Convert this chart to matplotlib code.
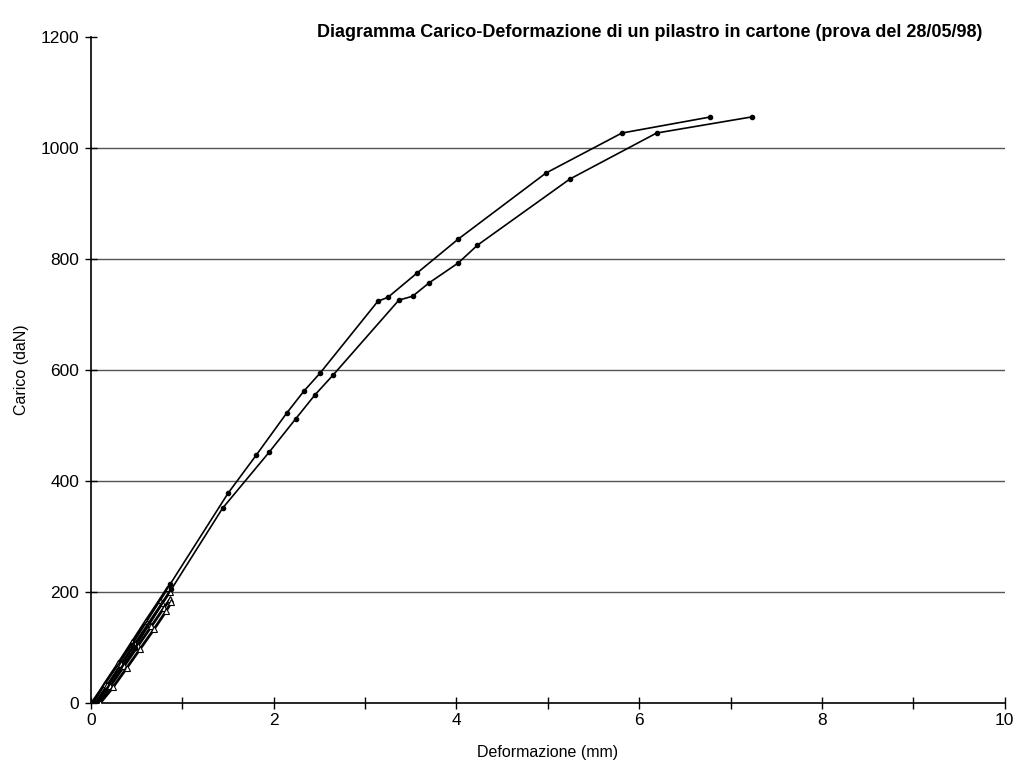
import matplotlib
matplotlib.use('Agg')
import matplotlib.pyplot as plt
import numpy as np

plt.rcParams['font.family'] = ['Liberation Sans', 'DejaVu Sans']

# curva di carico superiore (mm, daN)
x_up = [0.0, 0.45, 0.87, 1.50, 1.81, 2.14, 2.33, 2.51, 3.14, 3.25, 3.57, 4.02, 4.98, 5.81, 6.78]
y_up = [0, 105, 215, 378, 447, 522, 562, 595, 724, 731, 775, 836, 955, 1027, 1056]

# curva di carico inferiore
x_lo = [0.06, 0.48, 0.88, 1.44, 1.95, 2.24, 2.45, 2.65, 3.37, 3.52, 3.70, 4.02, 4.23, 5.24, 6.19, 7.23]
y_lo = [0, 100, 205, 351, 452, 512, 555, 591, 726, 733, 757, 793, 825, 944, 1027, 1056]

# cicli iniziali fino a ~200 daN
cyc1_x = [0.02, 0.15, 0.30, 0.45, 0.60, 0.75, 0.84]
cyc1_y = [0, 35, 72, 110, 148, 185, 208]
cyc2_x = [0.05, 0.18, 0.33, 0.48, 0.63, 0.78, 0.86]
cyc2_y = [0, 32, 70, 106, 143, 180, 200]
cyc3_x = [0.08, 0.21, 0.36, 0.51, 0.66, 0.80, 0.87]
cyc3_y = [0, 30, 66, 102, 138, 172, 188]
cyc4_x = [0.10, 0.24, 0.39, 0.54, 0.69, 0.82, 0.88]
cyc4_y = [0, 28, 63, 98, 133, 165, 182]

fig = plt.figure(figsize=(10.2, 7.65), dpi=100)
ax = fig.add_axes([0.0892, 0.081, 0.8958, 0.8706])

for yg in [200, 400, 600, 800, 1000]:
    ax.axhline(yg, color='#555555', lw=1.0, zorder=1)

for cx, cy in [(cyc1_x, cyc1_y), (cyc2_x, cyc2_y), (cyc3_x, cyc3_y), (cyc4_x, cyc4_y)]:
    ax.plot(cx, cy, color='black', lw=2.0, marker='^', markersize=5,
            markerfacecolor='white', markeredgecolor='black', markeredgewidth=0.8, zorder=3)

ax.plot(x_up, y_up, color='black', lw=1.2, marker='o', markersize=3, zorder=4)
ax.plot(x_lo, y_lo, color='black', lw=1.2, marker='o', markersize=3, zorder=4)

ax.set_xlim(0, 10)
ax.set_ylim(0, 1200)
ax.spines['top'].set_visible(False)
ax.spines['right'].set_visible(False)
ax.spines['left'].set_linewidth(1.2)
ax.spines['bottom'].set_linewidth(1.2)

ax.set_xticks(np.arange(0, 11, 2))
ax.set_xticks(np.arange(1, 10, 2), minor=True)
ax.set_yticks(np.arange(0, 1201, 200))
ax.tick_params(axis='both', which='both', direction='inout', length=9, width=1.0,
               labelsize=12.5, colors='black')
ax.tick_params(axis='y', pad=4)
ax.tick_params(axis='x', pad=3)

ax.set_xlabel('Deformazione (mm)', fontsize=11.5, labelpad=12)
ax.set_ylabel('Carico (daN)', fontsize=11.5, labelpad=8)

fig.text(0.637, 0.958, 'Diagramma Carico-Deformazione di un pilastro in cartone (prova del 28/05/98)',
         ha='center', va='center', fontsize=13, fontweight='bold')

plt.savefig('out.png', dpi=100)
